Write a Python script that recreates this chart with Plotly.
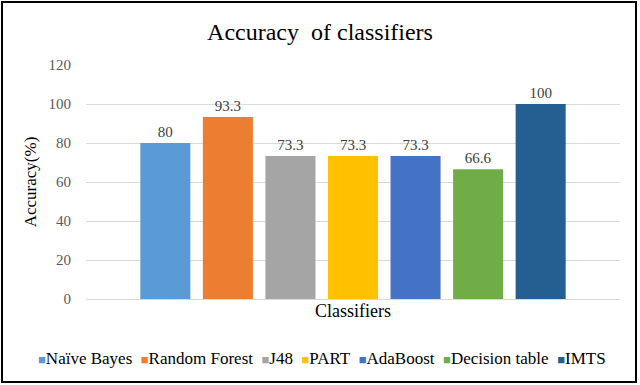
import plotly.graph_objects as go

classifiers = ["Naïve Bayes", "Random Forest", "J48", "PART", "AdaBoost", "Decision table", "IMTS"]
accuracy = [80, 93.3, 73.3, 73.3, 73.3, 66.6, 100]
labels = ["80", "93.3", "73.3", "73.3", "73.3", "66.6", "100"]
colors = ["#5B9BD5", "#ED7D31", "#A5A5A5", "#FFC000", "#4472C4", "#70AD47", "#255E91"]
y_ticks = [0, 20, 40, 60, 80, 100, 120]

FONT = "Liberation Serif, Times New Roman, serif"

fig = go.Figure()
for name, val, lab, col in zip(classifiers, accuracy, labels, colors):
    fig.add_trace(go.Bar(
        x=["Classifiers"], y=[val], name=name,
        marker=dict(color=col, line=dict(width=0)),
        text=[lab], textposition="outside", cliponaxis=False,
        textfont=dict(family=FONT, size=15, color="#404040"),
        showlegend=False,
    ))

L, R, T, B = 86, 20, 65, 86
W, H = 640, 385
pw = W - L - R
ph = H - T - B

legend_text = "&nbsp;&nbsp;".join(
    f"<span style='color:{c};font-size:13px'>■</span>{n}" for n, c in zip(classifiers, colors)
)

fig.update_layout(
    width=W, height=H,
    margin=dict(l=L, r=R, t=T, b=B, autoexpand=False),
    paper_bgcolor="white", plot_bgcolor="white",
    barmode="group", bargap=0.18, bargroupgap=0.2,
    font=dict(family=FONT, color="#595959", size=14),
    title=dict(text="Accuracy  of classifiers", x=0.5, xanchor="center",
               y=1 - 32 / H, yanchor="middle",
               font=dict(family=FONT, size=24, color="#000000")),
    showlegend=False,
    annotations=[dict(text=legend_text, xref="paper", yref="paper",
                      x=(322 - L) / pw, y=-(358 - (T + ph)) / ph,
                      xanchor="center", yanchor="middle", showarrow=False,
                      font=dict(family=FONT, size=17, color="#000000"))],
    xaxis=dict(showticklabels=False, showline=True, linecolor="#D9D9D9", linewidth=1,
               title=dict(text="Classifiers", standoff=5, font=dict(family=FONT, size=18, color="#000000"))),
    yaxis=dict(range=[0, 120], tickvals=y_ticks, showgrid=True, gridcolor="#D9D9D9", gridwidth=1,
               zeroline=False, showline=False, ticks="", ticklabelstandoff=14,
               tickfont=dict(family=FONT, size=15, color="#595959"),
               title=dict(text="Accuracy(%)", standoff=7, font=dict(family=FONT, size=17, color="#000000"))),
    shapes=[dict(type="rect", xref="paper", yref="paper",
                 x0=(2 - L) / pw, x1=(636 - L) / pw,
                 y0=-(382 - (T + ph)) / ph, y1=1 + (T - 2) / ph,
                 line=dict(color="#000000", width=2), fillcolor="rgba(0,0,0,0)", layer="below")],
)

fig.write_html("out.html", config={"displayModeBar": False},
               post_script="document.body.style.margin='0';")
